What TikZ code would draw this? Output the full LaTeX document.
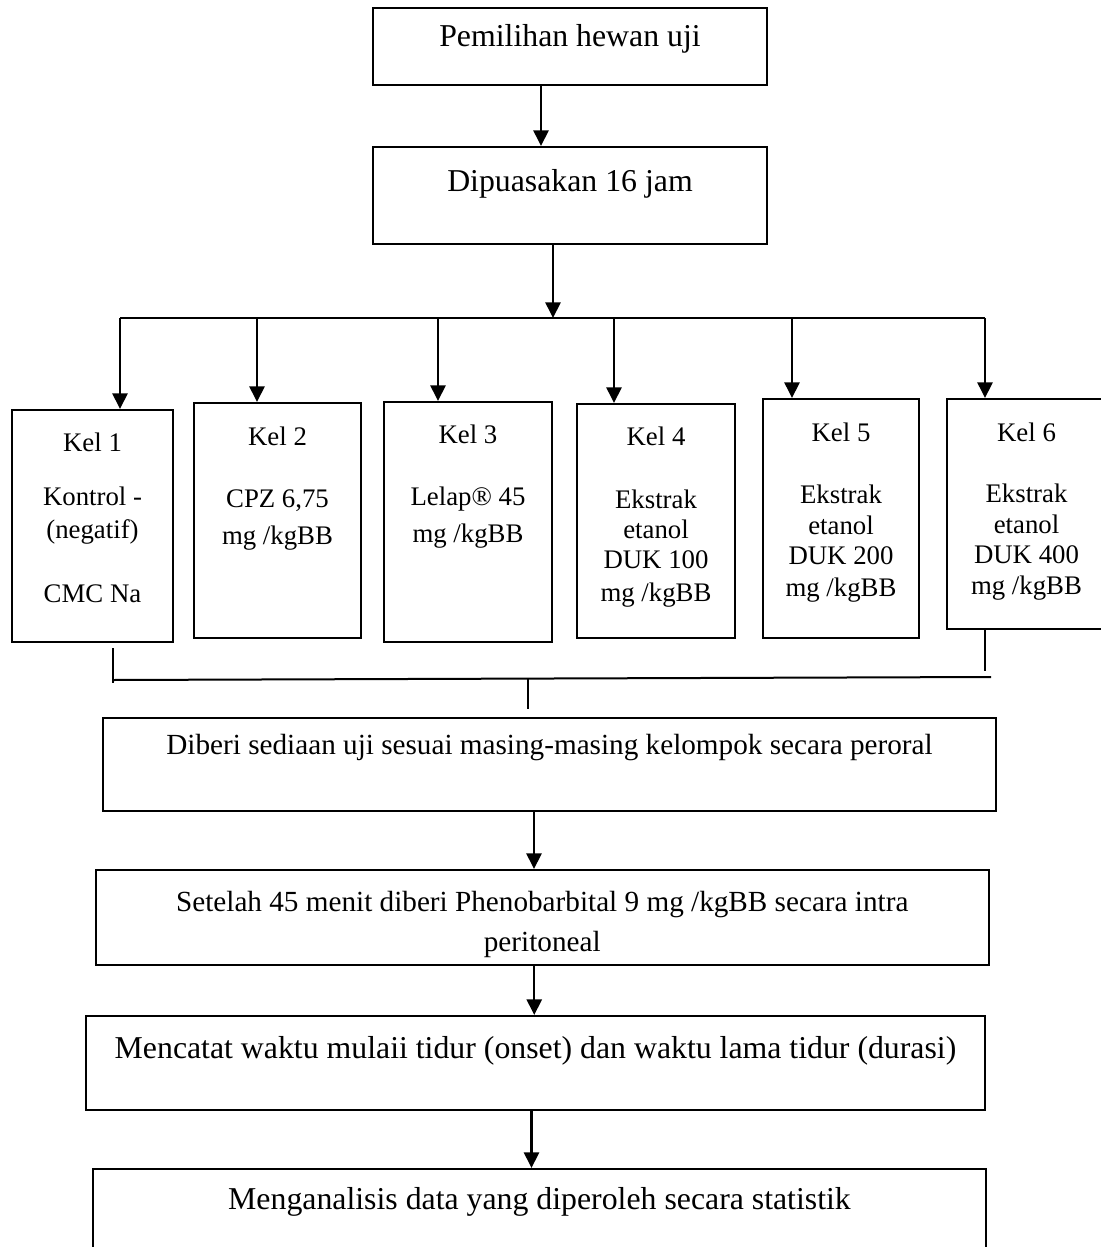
\documentclass[tikz,border=0pt]{standalone}
\usepackage{fontspec}
\setmainfont{Liberation Serif}
\usetikzlibrary{arrows.meta,fit}

\begin{document}
\begin{tikzpicture}[x=0.5pt, y=-0.5pt,
  font=\fontsize{15.9}{15.25}\selectfont,
  >={Triangle[length=7.8pt,width=7.5pt]},
  box/.style={rectangle, draw, line width=1pt, inner sep=0pt},
  lbl/.style={align=center, inner sep=0pt, anchor=north},
  kel/.style={lbl, font=\fontsize{13.4}{15}\selectfont},
  mid/.style={lbl, font=\fontsize{14.6}{15}\selectfont},
  arr/.style={->, line width=1.2pt},
  link/.style={line width=1pt},
]
\useasboundingbox (0,0) rectangle (1101,1247);
\clip (0,0) rectangle (1101,1247);

% =================== PREPARATION ===================
\node[box, fit={(373,8) (767,85)}] (pilih) {};
\node[lbl] (pilihtx) at ([yshift=-8.5pt]pilih.north) {Pemilihan hewan uji};

\node[box, fit={(373,147) (767,244)}] (puasa) {};
\node[lbl] (puasatx) at ([yshift=-11.5pt]puasa.north) {Dipuasakan 16 jam};

\draw[arr] ([xshift=-14.5pt]pilih.south) -- ([xshift=-14.5pt]pilih.south |- puasa.north);

% =================== GROUPS ===================
\coordinate (bm) at (553,318);
\coordinate (b1) at (120,318);
\coordinate (b2) at (257,318);
\coordinate (b3) at (438,318);
\coordinate (b4) at (614,318);
\coordinate (b5) at (792,318);
\coordinate (b6) at (985,318);

\draw[arr] (puasa.south -| bm) -- (bm);
\draw[link] (b1) -- (b6);

\node[box, fit={(12,410) (173,642)}] (k1) {};
\node[kel] (k1tx) at ([yshift=-11.75pt]k1.north)
 {Kel 1\\[12pt]Kontrol -\\[1.5pt](negatif)\\[17pt]CMC Na};

\node[box, fit={(194,403) (361,638)}] (k2) {};
\node[kel] (k2tx) at ([yshift=-12pt]k2.north)
 {Kel 2\\[16pt]CPZ 6,75\\[3.5pt]mg /kgBB};

\node[box, fit={(384,402) (552,642)}] (k3) {};
\node[kel] (k3tx) at ([yshift=-11.5pt]k3.north)
 {Kel 3\\[16pt]Lelap® 45\\[3.5pt]mg /kgBB};

\node[box, fit={(577,404) (735,638)}] (k4) {};
\node[kel] (k4tx) at ([yshift=-11.5pt]k4.north)
 {Kel 4\\[16.5pt]Ekstrak\\etanol\\DUK 100\\[1.5pt]mg /kgBB};

\node[box, fit={(763,399) (919,638)}] (k5) {};
\node[kel] (k5tx) at ([yshift=-12pt]k5.north)
 {Kel 5\\[16pt]Ekstrak\\[0.5pt]etanol\\DUK 200\\[1pt]mg /kgBB};

\node[box, fit={(947,399) (1106,629)}] (k6) {};
\node[kel] (k6tx) at ([yshift=-12pt]k6.north)
 {Kel 6\\[15.5pt]Ekstrak\\[0.5pt]etanol\\DUK 400\\[0.5pt]mg /kgBB};

\draw[arr] (b1) -- (b1 |- k1.north);
\draw[arr] (b2) -- (b2 |- k2.north);
\draw[arr] (b3) -- (b3 |- k3.north);
\draw[arr] (b4) -- (b4 |- k4.north);
\draw[arr] (b5) -- (b5 |- k5.north);
\draw[arr] (b6) -- (b6 |- k6.north);

% =================== JOIN ===================
\coordinate (j1) at (113,683);
\coordinate (j6) at (985,671);
\coordinate (jl) at (113,680);
\coordinate (jr) at (991,677);
\coordinate (jm) at (528,679);

\draw[link] ([yshift=-2.5pt]k1.south -| j1) -- (j1);
\draw[link] (k6.south -| j6) -- (j6);
\draw[link] (jl) -- (jr);

% =================== TREATMENT ===================
\node[box, fit={(103,718) (996,811)}] (beri) {};
\node[mid] (beritx) at ([yshift=-8.5pt]beri.north)
 {Diberi sediaan uji sesuai masing-masing kelompok secara peroral};

\draw[link] (jm) -- ([yshift=4pt]beri.north -| jm);

\node[box, fit={(95.5,870) (989,965)}] (feno) {};
\node[mid] (fenotx) at ([yshift=-11pt]feno.north)
 {Setelah 45 menit diberi Phenobarbital 9 mg /kgBB secara intra\\[4.75pt]peritoneal};

\node[box, fit={(86,1016) (985,1110)}] (catat) {};
\node[lbl] (catattx) at ([yshift=-10.3pt]catat.north)
 {Mencatat waktu mulaii tidur (onset) dan waktu lama tidur (durasi)};

\node[box, fit={(93,1169) (986,1262)}] (analisis) {};
\node[lbl] (analisistx) at ([yshift=-9.3pt]analisis.north)
 {Menganalisis data yang diperoleh secara statistik};

\draw[arr] ([xshift=-7.75pt]beri.south) -- ([xshift=-7.75pt]beri.south |- feno.north);
\draw[arr] ([xshift=-4pt]feno.south) -- ([xshift=-4pt]feno.south |- catat.north);
\draw[arr] ([xshift=-2pt]catat.south) -- ([xshift=-2pt]catat.south |- analisis.north);

\end{tikzpicture}
\end{document}
